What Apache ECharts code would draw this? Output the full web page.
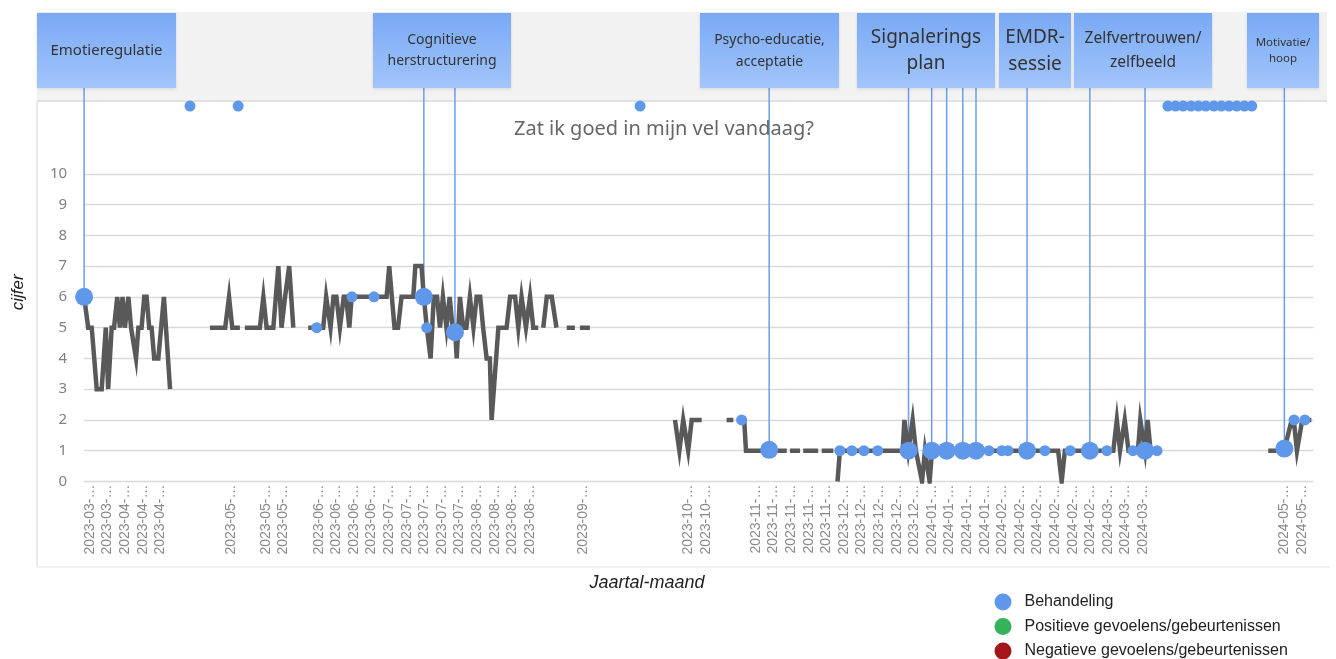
<!DOCTYPE html>
<html>
<head>
<meta charset="utf-8">
<script src="https://cdn.jsdelivr.net/npm/echarts@6/dist/echarts.min.js"></script>
<style>
  html, body { margin: 0; background: #fff; }
  #chart { width: 1336px; height: 659px; }
</style>
</head>
<body>
<div id="chart"></div>
<script>
// x = day number since the first entry, y = cijfer (0-10)
const tickDays = [2, 8, 14, 20, 26, 50, 62, 68, 80, 86, 92, 98, 104, 110, 116, 122, 128, 134, 140, 146, 152, 170,
  206, 212, 229, 235, 241, 247, 253, 259, 265, 271, 277, 283, 289, 295, 301, 307, 313, 319, 325, 331, 337, 343,
  349, 355, 361, 409, 415];
const tickLabels = ['2023-03', '2023-03', '2023-04', '2023-04', '2023-04', '2023-05', '2023-05', '2023-05',
  '2023-06', '2023-06', '2023-06', '2023-06', '2023-07', '2023-07', '2023-07', '2023-07', '2023-07',
  '2023-08', '2023-08', '2023-08', '2023-08', '2023-09', '2023-10', '2023-10',
  '2023-11', '2023-11', '2023-11', '2023-11', '2023-11', '2023-12', '2023-12', '2023-12', '2023-12', '2023-12',
  '2024-01', '2024-01', '2024-01', '2024-01', '2024-02', '2024-02', '2024-02', '2024-02', '2024-02', '2024-02',
  '2024-03', '2024-03', '2024-03', '2024-05', '2024-05'];

// null = missing day (line breaks)
const scoresMarApr = [[0, 6], [1.4, 5], [2.6, 5], [4.3, 3], [6, 3], [7.4, 5], [8.2, 3], [9.4, 5], [10.2, 5],
  [11.3, 6], [12.2, 5], [13.1, 6], [13.9, 5], [15.1, 6], [16, 5], [17.7, 4], [18.5, 5], [19.6, 5], [20.5, 6],
  [21.3, 6], [22.2, 5], [23, 5], [23.9, 4], [25.3, 4], [27.2, 6], [29.3, 3]];
const scoresMay = [[42.9, 5], [48.1, 5], [49.4, 6], [50.5, 5], [53.1, 5], null, [54.8, 5], [59.9, 5], [61.1, 6],
  [62.2, 5], [64.5, 5], [66.2, 7], [67.3, 5], [68.5, 6], [69.1, 6], [69.9, 7], [71.3, 5]];
const scoresJunSep = [[76.4, 5], [81.5, 5], [82.5, 6], [84, 5], [85, 6], [86, 6], [87.2, 5], [88.5, 6], [89.3, 6],
  [90.4, 5], [91.2, 6], [103.1, 6], [104, 7], [105.8, 5], [107, 5], [108.2, 6], [112.2, 6], [112.9, 7], [115, 7],
  [115.8, 6], [116.8, 5], [118.1, 4], [119.2, 6], [120.3, 6], [121.3, 5], [122.3, 6], [123.5, 5], [124.6, 6],
  [125.6, 5], [126.4, 5], [127, 4], [128.1, 6], [129.2, 5], [130.3, 5], [131.5, 6], [132.7, 5], [133.8, 6],
  [135, 6], [136, 5], [137.2, 4], [138.3, 4], [138.9, 2], [141.2, 5], [144, 5], [145.2, 6], [146.9, 6], [148, 5],
  [149.1, 6], [150.6, 5], [152, 6], [153.1, 5], [154.8, 5], null, [156.5, 5], [157.7, 6], [159.4, 6], [161, 5],
  null, [164.5, 5], [167.3, 5], null, [169, 5], [172.4, 5]];
const scoresOctMar = [[201.4, 2], [202.9, 1], [204.2, 2], [205.9, 1], [207.1, 2], [210.5, 2], null, [219, 2],
  [221.3, 2], null, [224.1, 2], [225, 2], [225.6, 1], [239.5, 1], null, [240.6, 1], [244, 1], null, [245.1, 1],
  [250.2, 1], null, [251.4, 1], [255.4, 1], null, [256.8, 0], [257.6, 1], [279, 1], [279.6, 2], [280.9, 1],
  [282.4, 2], [283.5, 1], [285.6, 0], [286.6, 1], [288.2, 0], [289, 1], [332, 1], [333.2, 0], [334.3, 1],
  [350.8, 1], [352, 2], [353.1, 1], [354.7, 2], [356, 1], [359.2, 1], [360, 2], [361.6, 1], [362.5, 2],
  [363.5, 1], [365.6, 1]];
const scoresMay24 = [[403.6, 1], [409, 1], [411.6, 2], [412.3, 2], [413.4, 1], [415.2, 2], [418.3, 2]];

// treatment sessions with a topic (big dots + line to the topic box)
const sessionDays = [0, 115.8, 126.4, 233.5, 281, 288.9, 294, 299.5, 304, 321.4, 342.8, 361.6, 409.1];
const sessionScores = [6, 6, 4.85, 1.03, 1, 1, 1, 1, 1, 1, 1, 1, 1.07];

// other treatment moments (small dots); 12.2 = above the scale
const treatmentDays = [36.1, 52.5, 79.3, 91.3, 98.8, 116.8, 189.5, 224.1, 257.6, 261.7, 265.8, 270.5, 308.4,
  312.8, 314.9, 327.5, 336.1, 348.6, 357.5, 365.7, 369.4, 372, 374.6, 377.3, 379.8, 382.3, 385.1, 387.6, 390.2,
  392.9, 395.5, 398, 412.4, 416.1];
const treatmentScores = [12.2, 12.2, 5, 6, 6, 5, 12.2, 2, 1, 1, 1, 1, 1, 1, 1, 1, 1, 1, 1, 1, 12.2, 12.2, 12.2,
  12.2, 12.2, 12.2, 12.2, 12.2, 12.2, 12.2, 12.2, 12.2, 2, 2];

const topics = ['Emotieregulatie', 'Cognitieve\nherstructurering', 'Psycho-educatie,\nacceptatie',
  'Signalerings\nplan', 'EMDR-\nsessie', 'Zelfvertrouwen/\nzelfbeeld', 'Motivatie/\nhoop'];

// box layout for the topics (pixels)
const topicBoxes = [
  { x: 37, w: 139, size: 15, lh: 20 },
  { x: 373, w: 138, size: 14, lh: 21 },
  { x: 700, w: 139, size: 14, lh: 22 },
  { x: 857, w: 138, size: 19, lh: 26 },
  { x: 999, w: 72, size: 19, lh: 27 },
  { x: 1074, w: 138, size: 15.5, lh: 24 },
  { x: 1247, w: 72, size: 11.5, lh: 16 }
];

const BLUE = '#5f98ea';
const LINE_BLUE = '#6b9ee9';
const BOX_BOTTOM = 88;

function joinSegments(...segments) {
  const out = [];
  segments.forEach((seg, s) => {
    if (s > 0) out.push([out[out.length - 1][0] + 0.3, '-']);
    seg.forEach((p, k) => {
      if (p === null) out.push([seg[k - 1][0] + 0.3, '-']);
      else out.push(p);
    });
  });
  return out;
}

const labelByDay = new Map(tickDays.map((d, k) => [d, tickLabels[k] + '-…']));

const chart = echarts.init(document.getElementById('chart'));

const boxGraphics = [];
topicBoxes.forEach((b, k) => {
  boxGraphics.push({
    type: 'rect', z: 10,
    shape: { x: b.x, y: 13, width: b.w, height: 75 },
    style: {
      fill: new echarts.graphic.LinearGradient(0, 0, 0, 1, [
        { offset: 0, color: '#79a9f4' }, { offset: 1, color: '#a2c5fb' }
      ]),
      shadowBlur: 3, shadowColor: 'rgba(0,0,0,0.12)', shadowOffsetY: 1
    }
  });
  boxGraphics.push({
    type: 'text', z: 11,
    x: b.x + b.w / 2, y: 51,
    style: {
      text: topics[k], align: 'center', verticalAlign: 'middle',
      fontSize: b.size, lineHeight: b.lh, fontFamily: 'Noto Sans', fill: '#333'
    }
  });
});

const option = {
  animation: false,
  backgroundColor: '#fff',
  title: {
    text: 'Zat ik goed in mijn vel vandaag?',
    left: 514, top: 119, padding: 0,
    textStyle: { fontSize: 20, fontWeight: 'normal', color: '#666', fontFamily: 'Noto Sans' }
  },
  grid: { left: 84.1, right: 22.6, top: 103, bottom: 177.5, outerBoundsMode: 'none' },
  xAxis: {
    type: 'value', min: 0, max: 419, interval: 1,
    axisLine: { show: false }, axisTick: { show: false }, splitLine: { show: false },
    axisLabel: {
      rotate: 90, margin: 3, fontSize: 14, color: '#8a8a8a', fontFamily: 'Liberation Sans',
      formatter: v => labelByDay.get(v) || ''
    }
  },
  yAxis: {
    type: 'value', min: 0, max: 12.3, interval: 1,
    name: 'cijfer', nameLocation: 'middle', nameGap: 57,
    nameTextStyle: { fontStyle: 'italic', fontSize: 17, color: '#222', fontFamily: 'Liberation Sans' },
    axisLine: { show: false }, axisTick: { show: false },
    axisLabel: {
      margin: 17, fontSize: 15, color: '#808080', fontFamily: 'Noto Sans',
      formatter: v => (v <= 10 ? String(v) : '')
    },
    splitLine: {
      showMaxLine: false,
      lineStyle: {
        width: 1.3,
        color: ['#d9d9d9', '#d9d9d9', '#d9d9d9', '#d9d9d9', '#d9d9d9', '#d9d9d9', '#d9d9d9', '#d9d9d9',
          '#d9d9d9', '#d9d9d9', '#d9d9d9', 'rgba(0,0,0,0)', 'rgba(0,0,0,0)', 'rgba(0,0,0,0)']
      }
    }
  },
  legend: {
    orient: 'vertical', left: 994.5, top: 593.5, height: 120, padding: 0,
    itemWidth: 17, itemHeight: 17, itemGap: 7.5, icon: 'circle',
    textStyle: { fontSize: 16, color: '#222', fontFamily: 'Liberation Sans', lineHeight: 17, padding: [0, 0, 0, 8] },
    data: ['Behandeling', 'Positieve gevoelens/gebeurtenissen', 'Negatieve gevoelens/gebeurtenissen']
  },
  graphic: [
    { type: 'rect', z: -10, shape: { x: 37, y: 12, width: 1290, height: 89 }, style: { fill: '#f2f2f2' } },
    { type: 'line', z: -9, shape: { x1: 37, y1: 101, x2: 1327, y2: 101 }, style: { stroke: '#d8d8d8', lineWidth: 1.5 } },
    { type: 'line', z: -9, shape: { x1: 37, y1: 101, x2: 37, y2: 567 }, style: { stroke: '#e3e3e3', lineWidth: 1.5 } },
    { type: 'line', z: -9, shape: { x1: 37, y1: 567, x2: 1330, y2: 567 }, style: { stroke: '#ececec', lineWidth: 1.5 } },
    {
      type: 'text', x: 647, y: 583,
      style: {
        text: 'Jaartal-maand', align: 'center', verticalAlign: 'middle',
        fontSize: 18, fontStyle: 'italic', fontFamily: 'Liberation Sans', fill: '#222'
      }
    },
    ...boxGraphics
  ],
  series: [
    {
      type: 'custom', silent: true, z: 1,
      data: sessionDays.map((d, k) => [d, sessionScores[k]]),
      renderItem: (params, api) => {
        const p = api.coord([api.value(0), api.value(1)]);
        return {
          type: 'line',
          shape: { x1: p[0], y1: p[1], x2: p[0], y2: BOX_BOTTOM },
          style: { stroke: LINE_BLUE, lineWidth: 1.5 }
        };
      }
    },
    {
      name: 'cijfer', type: 'line', z: 2, silent: true,
      data: joinSegments(scoresMarApr, scoresMay, scoresJunSep, scoresOctMar, scoresMay24),
      showSymbol: false, connectNulls: false,
      lineStyle: { color: '#595959', width: 4.5, join: 'miter' }
    },
    {
      name: 'Behandeling', type: 'scatter', z: 3, symbolSize: 11,
      data: treatmentDays.map((d, k) => [d, treatmentScores[k]]),
      itemStyle: { color: BLUE, opacity: 1 }
    },
    {
      name: 'Behandeling', type: 'scatter', z: 4, symbolSize: 18,
      data: sessionDays.map((d, k) => [d, sessionScores[k]]),
      itemStyle: { color: BLUE, opacity: 1 }
    },
    { name: 'Positieve gevoelens/gebeurtenissen', type: 'scatter', data: [], itemStyle: { color: '#35b35b', opacity: 1 } },
    { name: 'Negatieve gevoelens/gebeurtenissen', type: 'scatter', data: [], itemStyle: { color: '#a3161b', opacity: 1 } }
  ]
};

chart.setOption(option);
</script>
</body>
</html>
